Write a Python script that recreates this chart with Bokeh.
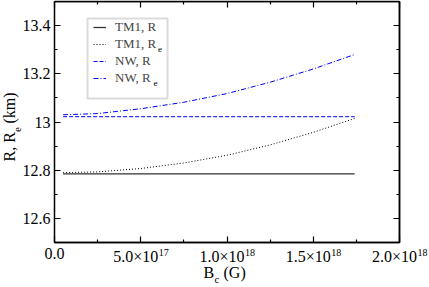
import math
from bokeh.plotting import figure
from bokeh.models import (Range1d, FixedTicker, LinearAxis, Label, Legend,
                          LegendItem, BoxAnnotation)
from bokeh.embed import file_html
from bokeh.resources import INLINE

# ---- data ----
b_field = [0.05e18, 0.25e18, 0.50e18, 0.75e18, 1.00e18, 1.25e18, 1.50e18, 1.74e18]
tm1_r = [12.785, 12.785, 12.785, 12.785, 12.785, 12.785, 12.785, 12.785]
tm1_re = [12.790, 12.793, 12.807, 12.830, 12.862, 12.905, 12.957, 13.015]
nw_r = [13.022, 13.022, 13.022, 13.022, 13.022, 13.022, 13.022, 13.022]
nw_re = [13.030, 13.035, 13.055, 13.082, 13.118, 13.165, 13.220, 13.280]

x_min, x_max = 0.0, 2e18
y_min, y_max = 12.5, 13.5
x_ticks = [0.0, 5e17, 1e18, 1.5e18, 2e18]
x_minor = [2.5e17, 7.5e17, 1.25e18, 1.75e18]
x_mant = ["0.0", "5.0", "1.0", "1.5", "2.0"]
x_exp = ["", "17", "18", "18", "18"]
y_ticks = [12.6, 12.8, 13.0, 13.2, 13.4]
y_minor = [12.5, 12.7, 12.9, 13.1, 13.3, 13.5]
y_labels = ["12.6", "12.8", "13", "13.2", "13.4"]

FONT = "Liberation Serif"
W, H = 429, 287
# plot box in canvas pixels
BL, BR, BT, BB = 54, 399, 1, 242

xs_per_px = (x_max - x_min) / (BR - BL)
ys_per_px = (y_max - y_min) / (BB - BT)
x_range = Range1d(x_min - BL * xs_per_px, x_max + (W - BR) * xs_per_px)
y_range = Range1d(y_min - (H - BB) * ys_per_px, y_max + BT * ys_per_px)

p = figure(width=W, height=H, output_backend="svg", toolbar_location=None,
           x_range=x_range, y_range=y_range,
           x_axis_location=None, y_axis_location=None,
           min_border_left=0, min_border_right=0, min_border_top=0,
           min_border_bottom=0)
p.grid.visible = False
p.background_fill_color = "white"
p.border_fill_color = "white"
p.outline_line_color = None


def make_axis(side, loc, bounds, major, minor, tick_len, labels=None):
    ax = LinearAxis(fixed_location=loc, bounds=bounds,
                    ticker=FixedTicker(ticks=major, minor_ticks=minor))
    ax.axis_line_color = "black"
    ax.axis_line_width = 1.5
    ax.major_tick_in = 6
    ax.major_tick_out = 0
    ax.minor_tick_in = tick_len
    ax.minor_tick_out = 0
    ax.major_tick_line_color = "black"
    ax.minor_tick_line_color = "black"
    ax.major_tick_line_width = 1.2
    ax.minor_tick_line_width = 1.2
    if labels is not None:
        ax.major_label_text_font = FONT
        ax.major_label_text_font_size = "16px"
        ax.major_label_text_color = "black"
        ax.major_label_standoff = 4
        ax.major_label_overrides = labels
    p.add_layout(ax, side)
    return ax


xb = (x_min, x_max)
yb = (y_min, y_max)
# left axis: labelled major ticks + minor ticks
make_axis("left", x_min, yb, y_ticks, y_minor, 3,
          labels={v: s for v, s in zip(y_ticks, y_labels)})
# other sides: major positions drawn as long ticks, minor as short ticks
for side, loc, bnd, major, minor in [("below", y_min, xb, x_ticks, x_minor),
                                     ("above", y_max, xb, x_ticks, x_minor),
                                     ("right", x_max, yb, y_ticks, y_minor)]:
    make_axis(side, loc, bnd, [], major, 6)
    make_axis(side, loc, bnd, [], minor, 3)

# ---- series ----
r1 = p.line(b_field, tm1_r, line_color="#333333", line_width=1.3)
r2 = p.line(b_field, tm1_re, line_color="black", line_width=1, line_dash="1 2")
r3 = p.line(b_field, nw_r, line_color="blue", line_width=1, line_dash="4 2")
r4 = p.line(b_field, nw_re, line_color="blue", line_width=1, line_dash="5 2 1 2")

# ---- legend ----
box = BoxAnnotation(left=87, right=167, top=H - 18, bottom=H - 98,
                    left_units="screen", right_units="screen",
                    top_units="screen", bottom_units="screen",
                    fill_color="white", fill_alpha=1.0,
                    line_color="#888888", line_width=2)
p.add_layout(box)
legend = Legend(items=[LegendItem(label="TM1, R", renderers=[r1]),
                       LegendItem(label="TM1, R", renderers=[r2]),
                       LegendItem(label="NW, R", renderers=[r3]),
                       LegendItem(label="NW, R", renderers=[r4])],
                location=(89, H - 90), padding=4, spacing=1, margin=0,
                glyph_width=13, glyph_height=16, label_height=16,
                label_standoff=9, label_text_font=FONT,
                label_text_font_size="13px", background_fill_alpha=0,
                border_line_alpha=0)
p.add_layout(legend, "center")
for sx, sy in [(157.5, 51), (153.0, 85)]:
    p.add_layout(Label(x=sx, y=H - sy, x_units="screen", y_units="screen",
                       text="e", text_font=FONT, text_font_size="9px",
                       text_color="black"))

# ---- x tick labels with exponents ----
for v, m, e in zip(x_ticks, x_mant, x_exp):
    if e:
        p.add_layout(Label(x=v, y=H - 264, x_units="data", y_units="screen",
                           x_offset=17.5, text=m + "\u00d710", text_align="right",
                           text_font=FONT, text_font_size="16px", text_color="black"))
        p.add_layout(Label(x=v, y=H - 255, x_units="data", y_units="screen",
                           x_offset=18.0, text=e, text_align="left",
                           text_font=FONT, text_font_size="10px", text_color="black"))
    else:
        p.add_layout(Label(x=v, y=H - 258, x_units="data", y_units="screen",
                           text=m, text_align="center",
                           text_font=FONT, text_font_size="16px", text_color="black"))

# ---- axis titles ----
p.add_layout(Label(x=203, y=H - 280, x_units="screen", y_units="screen", text="B",
                   text_font=FONT, text_font_size="16px", text_color="black"))
p.add_layout(Label(x=214, y=H - 284, x_units="screen", y_units="screen", text="c",
                   text_font=FONT, text_font_size="11px", text_color="black"))
p.add_layout(Label(x=223, y=H - 280, x_units="screen", y_units="screen", text="(G)",
                   text_font=FONT, text_font_size="16px", text_color="black"))

ang = math.pi / 2
p.add_layout(Label(x=17, y=H - 161, x_units="screen", y_units="screen", text="R, R",
                   angle=ang, text_font=FONT, text_font_size="16px", text_color="black"))
p.add_layout(Label(x=20, y=H - 131.5, x_units="screen", y_units="screen", text="e",
                   angle=ang, text_font=FONT, text_font_size="11px", text_color="black"))
p.add_layout(Label(x=17, y=H - 123, x_units="screen", y_units="screen", text="(km)",
                   angle=ang, text_font=FONT, text_font_size="16px", text_color="black"))

open("out.html", "w").write(file_html(p, INLINE))
